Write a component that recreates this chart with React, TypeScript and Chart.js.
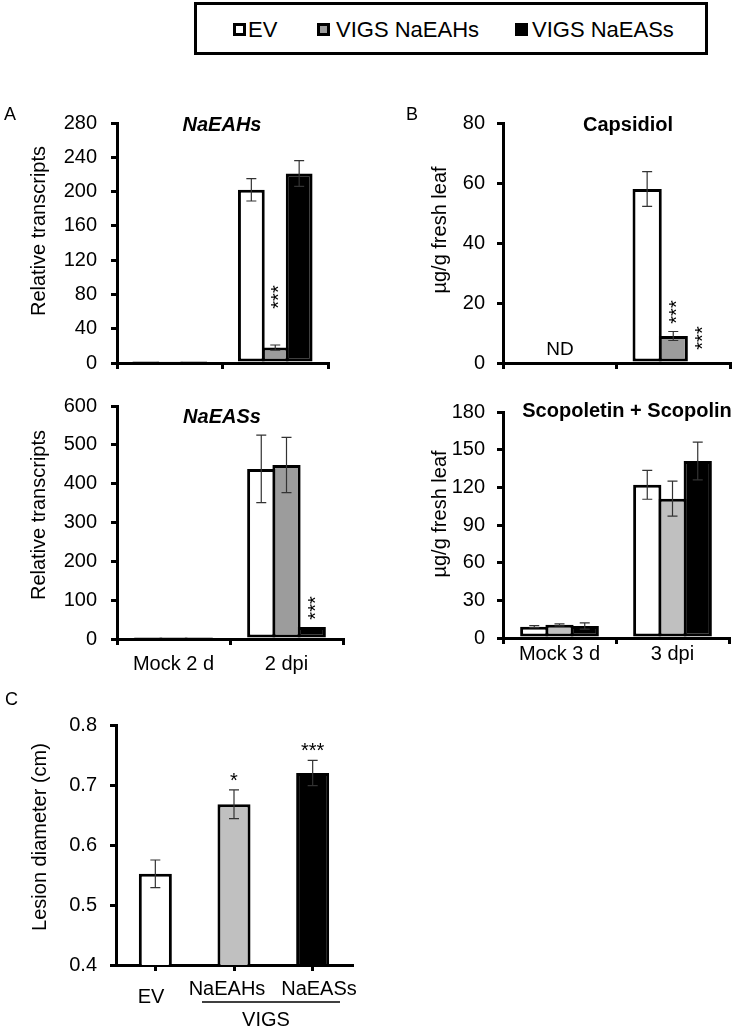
import React, { useEffect, useRef } from 'react';
import { Chart, registerables } from 'chart.js';
Chart.register(...registerables);

const FONT = "'Liberation Sans', Arial, Helvetica, sans-serif";
const W = 743;
const H = 1030;

// ---------- data ----------
const SERIES_NAMES = ['EV', 'VIGS NaEAHs', 'VIGS NaEASs'];
const TIME_2D = ['Mock 2 d', '2 dpi'];
const TIME_3D = ['Mock 3 d', '3 dpi'];

// NaEAHs relative transcripts
const EAH_EV = [1, 202];
const EAH_EV_ERR = [0, 13];
const EAH_H = [1.5, 18];
const EAH_H_ERR = [0, 3];
const EAH_S = [1, 221];
const EAH_S_ERR = [0, 15];

// NaEASs relative transcripts
const EAS_EV = [1.5, 438];
const EAS_EV_ERR = [0, 87];
const EAS_H = [1.5, 448];
const EAS_H_ERR = [0, 71];
const EAS_S = [1.5, 31];
const EAS_S_ERR = [0, 0];

// Capsidiol (µg/g fresh leaf)
const CAP_EV = [0, 58];
const CAP_EV_ERR = [0, 5.8];
const CAP_H = [0, 9];
const CAP_H_ERR = [0, 1.5];
const CAP_S = [0, 0];
const CAP_S_ERR = [0, 0];

// Scopoletin + Scopolin (µg/g fresh leaf)
const SCO_EV = [9, 122];
const SCO_EV_ERR = [0.8, 11.5];
const SCO_H = [10.5, 111];
const SCO_H_ERR = [0.8, 14];
const SCO_S = [9.5, 141];
const SCO_S_ERR = [2.5, 15];

// Lesion diameter (cm)
const LESION_LABELS = ['EV', 'NaEAHs', 'NaEASs'];
const LESION = [0.552, 0.668, 0.72];
const LESION_ERR = [0.023, 0.024, 0.021];

const WHITE = '#ffffff';
const GRAY_D = '#9c9c9c';
const GRAY_L = '#c0c0c0';
const BLACK = '#000000';

type Series = { data: number[]; err: number[]; fill: string | string[] };
type Txt = { text: string; x: number; y: number; font: string; align?: CanvasTextAlign; rotate?: boolean };
type Star = { ds: number; idx: number; text: string; dy: number; rotate?: boolean };
type Spec = {
  labels: string[];
  series: Series[];
  yMin: number; yMax: number; yStep: number; yDec: number;
  area: [number, number, number, number];
  catPct: number; barPct: number;
  showX: boolean; xPad: number; gridOffset: boolean; yPad: number;
  texts: Txt[];
  stars: Star[];
  lines?: [number, number, number, number][];
};

const F20 = `20px ${FONT}`;
const TITLE_FONT = `italic bold 20px ${FONT}`;
const TITLE_FONT_B = `bold 20px ${FONT}`;
const LETTER_FONT = `18px ${FONT}`;

function makeExtras(s: Spec) {
  return {
    id: 'extras',
    afterDatasetsDraw(chart: any) {
      const ctx = chart.ctx;
      const ys = chart.scales.y;
      ctx.save();
      ctx.strokeStyle = '#333';
      ctx.lineWidth = 1.2;
      s.series.forEach((se, di) => {
        const meta = chart.getDatasetMeta(di);
        se.data.forEach((v, i) => {
          const e = se.err[i];
          if (!e) return;
          const x = meta.data[i].x;
          const yt = ys.getPixelForValue(v + e);
          const yb = ys.getPixelForValue(v - e);
          ctx.beginPath();
          ctx.moveTo(x, yt); ctx.lineTo(x, yb);
          ctx.moveTo(x - 5, yt); ctx.lineTo(x + 5, yt);
          ctx.moveTo(x - 5, yb); ctx.lineTo(x + 5, yb);
          ctx.stroke();
        });
      });
      ctx.restore();
    },
    afterDraw(chart: any) {
      const ctx = chart.ctx;
      const ys = chart.scales.y;
      ctx.save();
      ctx.fillStyle = '#000';
      s.stars.forEach((st) => {
        const el = chart.getDatasetMeta(st.ds).data[st.idx];
        const se = s.series[st.ds];
        const top = ys.getPixelForValue(se.data[st.idx] + (se.err[st.idx] || 0));
        const cy = top - st.dy;
        ctx.font = F20;
        ctx.textAlign = 'center';
        ctx.textBaseline = 'middle';
        if (st.rotate) {
          ctx.save();
          ctx.translate(el.x + 4.4, cy);
          ctx.rotate(-Math.PI / 2);
          ctx.fillText(st.text, 0, 0);
          ctx.restore();
        } else {
          ctx.fillText(st.text, el.x, cy + 4.4);
        }
      });
      s.texts.forEach((t) => {
        ctx.font = t.font;
        ctx.textAlign = t.align || 'center';
        ctx.textBaseline = 'alphabetic';
        if (t.rotate) {
          ctx.save();
          ctx.translate(t.x, t.y);
          ctx.rotate(-Math.PI / 2);
          ctx.fillText(t.text, 0, 0);
          ctx.restore();
        } else {
          ctx.fillText(t.text, t.x, t.y);
        }
      });
      (s.lines || []).forEach(([x1, y1, x2, y2]) => {
        ctx.strokeStyle = '#000';
        ctx.lineWidth = 1.5;
        ctx.beginPath();
        ctx.moveTo(x1, y1);
        ctx.lineTo(x2, y2);
        ctx.stroke();
      });
      ctx.restore();
    },
  };
}

function makeConfig(s: Spec): any {
  const [l, t, r, b] = s.area;
  const yW = 60;
  const xH = 40;
  const gridCommon = {
    display: true,
    drawOnChartArea: false,
    drawTicks: true,
    tickLength: 6,
    tickWidth: 3,
    tickColor: '#000',
    lineWidth: 3,
    color: '#000',
  };
  return {
    type: 'bar',
    data: {
      labels: s.labels,
      datasets: s.series.map((se, i) => ({
        label: SERIES_NAMES[i] || '',
        data: se.data,
        backgroundColor: se.fill,
        borderColor: '#000',
        borderWidth: 3,
        borderSkipped: false,
        categoryPercentage: s.catPct,
        barPercentage: s.barPct,
      })),
    },
    options: {
      responsive: false,
      animation: false,
      devicePixelRatio: 1,
      layout: { padding: { left: l - yW, top: t, right: W - r, bottom: H - b - xH } },
      plugins: { legend: { display: false }, tooltip: { enabled: false }, title: { display: false } },
      scales: {
        x: {
          offset: true,
          grid: { ...gridCommon, offset: s.gridOffset },
          border: { display: true, width: 3, color: '#000' },
          ticks: {
            display: s.showX,
            color: '#000',
            font: { family: FONT, size: 20, lineHeight: 1 },
            padding: s.xPad,
            maxRotation: 0,
            autoSkip: false,
          },
          afterFit: (sc: any) => { sc.height = xH; },
        },
        y: {
          min: s.yMin,
          max: s.yMax,
          grid: { ...gridCommon },
          border: { display: true, width: 3, color: '#000' },
          ticks: {
            stepSize: s.yStep,
            color: '#000',
            font: { family: FONT, size: 20 },
            padding: s.yPad,
            callback: (v: any) => Number(v).toFixed(s.yDec),
          },
          afterFit: (sc: any) => { sc.width = yW; },
        },
      },
    },
    plugins: [makeExtras(s)],
  };
}

const SPEC_A1: Spec = {
  labels: TIME_2D,
  series: [
    { data: EAH_EV, err: EAH_EV_ERR, fill: WHITE },
    { data: EAH_H, err: EAH_H_ERR, fill: GRAY_D },
    { data: EAH_S, err: EAH_S_ERR, fill: BLACK },
  ],
  yMin: 0, yMax: 280, yStep: 40, yDec: 0,
  area: [117, 123, 328, 363],
  catPct: 0.68, barPct: 1.12,
  showX: false, xPad: 8, gridOffset: true, yPad: 14,
  texts: [
    { text: 'A', x: 4, y: 120, font: LETTER_FONT, align: 'left' },
    { text: 'NaEAHs', x: 222, y: 131, font: TITLE_FONT },
    { text: 'Relative transcripts', x: 44.5, y: 231, font: F20, rotate: true },
  ],
  stars: [{ ds: 1, idx: 1, text: '***', dy: 48, rotate: true }],
};

const SPEC_A2: Spec = {
  labels: TIME_2D,
  series: [
    { data: EAS_EV, err: EAS_EV_ERR, fill: WHITE },
    { data: EAS_H, err: EAS_H_ERR, fill: GRAY_D },
    { data: EAS_S, err: EAS_S_ERR, fill: BLACK },
  ],
  yMin: 0, yMax: 600, yStep: 100, yDec: 0,
  area: [117, 406, 343, 639],
  catPct: 0.67, barPct: 1.12,
  showX: true, xPad: 9, gridOffset: true, yPad: 14,
  texts: [
    { text: 'NaEASs', x: 222, y: 423, font: TITLE_FONT },
    { text: 'Relative transcripts', x: 44.5, y: 515, font: F20, rotate: true },
  ],
  stars: [{ ds: 2, idx: 1, text: '***', dy: 19, rotate: true }],
};

const SPEC_B1: Spec = {
  labels: TIME_3D,
  series: [
    { data: CAP_EV, err: CAP_EV_ERR, fill: WHITE },
    { data: CAP_H, err: CAP_H_ERR, fill: GRAY_D },
    { data: CAP_S, err: CAP_S_ERR, fill: BLACK },
  ],
  yMin: 0, yMax: 80, yStep: 20, yDec: 0,
  area: [503, 123, 730, 363],
  catPct: 0.69, barPct: 1.12,
  showX: false, xPad: 8, gridOffset: true, yPad: 12,
  texts: [
    { text: 'B', x: 406, y: 120, font: LETTER_FONT, align: 'left' },
    { text: 'Capsidiol', x: 628, y: 131, font: TITLE_FONT_B },
    { text: 'µg/g fresh leaf', x: 446, y: 230, font: F20, rotate: true },
    { text: 'ND', x: 560, y: 355, font: `19px ${FONT}` },
  ],
  stars: [
    { ds: 1, idx: 1, text: '***', dy: 19.5, rotate: true },
    { ds: 2, idx: 1, text: '***', dy: 25, rotate: true },
  ],
};

const SPEC_B2: Spec = {
  labels: TIME_3D,
  series: [
    { data: SCO_EV, err: SCO_EV_ERR, fill: WHITE },
    { data: SCO_H, err: SCO_H_ERR, fill: GRAY_L },
    { data: SCO_S, err: SCO_S_ERR, fill: BLACK },
  ],
  yMin: 0, yMax: 180, yStep: 30, yDec: 0,
  area: [503, 412, 729, 638],
  catPct: 0.67, barPct: 1.12,
  showX: true, xPad: 0.5, gridOffset: true, yPad: 12,
  texts: [
    { text: 'Scopoletin + Scopolin', x: 627, y: 417, font: TITLE_FONT_B },
    { text: 'µg/g fresh leaf', x: 446, y: 514, font: F20, rotate: true },
  ],
  stars: [],
};

const SPEC_C: Spec = {
  labels: LESION_LABELS,
  series: [{ data: LESION, err: LESION_ERR, fill: [WHITE, GRAY_L, BLACK] }],
  yMin: 0.4, yMax: 0.8, yStep: 0.1, yDec: 1,
  area: [116, 725, 352, 965],
  catPct: 1, barPct: 0.42,
  showX: false, xPad: 10, gridOffset: false, yPad: 13,
  texts: [
    { text: 'C', x: 5, y: 705, font: LETTER_FONT, align: 'left' },
    { text: 'Lesion diameter (cm)', x: 46, y: 837, font: F20, rotate: true },
    { text: LESION_LABELS[0], x: 151, y: 1003, font: F20 },
    { text: LESION_LABELS[1], x: 227, y: 995, font: F20 },
    { text: LESION_LABELS[2], x: 319, y: 995, font: F20 },
    { text: 'VIGS', x: 266, y: 1026, font: F20 },
  ],
  stars: [
    { ds: 0, idx: 1, text: '*', dy: 13 },
    { ds: 0, idx: 2, text: '***', dy: 13 },
  ],
  lines: [[202, 1002, 340, 1002]],
};

function Panel({ spec }: { spec: Spec }) {
  const ref = useRef<HTMLCanvasElement>(null);
  useEffect(() => {
    const chart = new Chart(ref.current as HTMLCanvasElement, makeConfig(spec));
    return () => chart.destroy();
  }, [spec]);
  return (
    <canvas
      ref={ref}
      width={W}
      height={H}
      style={{ position: 'absolute', left: 0, top: 0, width: W, height: H }}
    />
  );
}

const LEGEND_ITEMS = [
  { name: SERIES_NAMES[0], fill: WHITE, sq: 233, tx: 248 },
  { name: SERIES_NAMES[1], fill: GRAY_D, sq: 317, tx: 336 },
  { name: SERIES_NAMES[2], fill: BLACK, sq: 515, tx: 532 },
];

export default function App() {
  return (
    <div
      style={{
        position: 'absolute', left: 0, top: 0, width: W, height: H,
        background: '#fff', overflow: 'hidden', fontFamily: FONT,
      }}
    >
      <div
        style={{
          position: 'absolute', left: 194, top: 2, width: 514, height: 53,
          boxSizing: 'border-box', border: '3px solid #000',
        }}
      />
      {LEGEND_ITEMS.map((it) => (
        <React.Fragment key={it.name}>
          <div
            style={{
              position: 'absolute', left: it.sq, top: 23, width: 13, height: 13,
              boxSizing: 'border-box', border: '3px solid #000', background: it.fill,
            }}
          />
          <div
            style={{
              position: 'absolute', left: it.tx, top: 19, fontSize: 22, lineHeight: '22px',
              whiteSpace: 'nowrap', color: '#000',
            }}
          >
            {it.name}
          </div>
        </React.Fragment>
      ))}
      <Panel spec={SPEC_A1} />
      <Panel spec={SPEC_A2} />
      <Panel spec={SPEC_B1} />
      <Panel spec={SPEC_B2} />
      <Panel spec={SPEC_C} />
    </div>
  );
}
